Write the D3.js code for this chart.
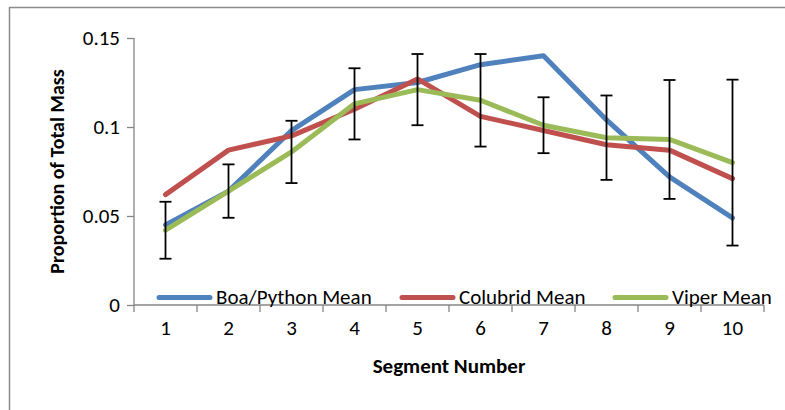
<!DOCTYPE html>
<html>
<head>
<meta charset="utf-8">
<script src="https://cdn.jsdelivr.net/npm/d3@7"></script>
<style>
  body { margin: 0; background: #fff; }
  svg text { font-family: Carlito, Calibri, Lato, sans-serif; }
</style>
</head>
<body>
<div id="chart"></div>
<script>
// data
var segments = [1, 2, 3, 4, 5, 6, 7, 8, 9, 10];
var boaMean = [0.045, 0.064, 0.098, 0.121, 0.125, 0.135, 0.140, 0.104, 0.072, 0.049];
var colubridMean = [0.062, 0.087, 0.095, 0.110, 0.127, 0.106, 0.098, 0.090, 0.087, 0.071];
var viperMean = [0.042, 0.064, 0.086, 0.113, 0.121, 0.115, 0.101, 0.094, 0.093, 0.080];
var viperErr = [0.016, 0.015, 0.0175, 0.020, 0.020, 0.026, 0.0157, 0.0237, 0.0334, 0.0466];
var yTicks = [0, 0.05, 0.1, 0.15];
var seriesNames = ["Boa/Python Mean", "Colubrid Mean", "Viper Mean"];
var seriesColors = ["#4F81BD", "#C0504D", "#9BBB59"];

var svgWidth = 785;
var svgHeight = 410;

var margin = { top: 38, right: 21, bottom: 105, left: 134 };
var chartWidth = svgWidth - margin.left - margin.right;
var chartHeight = svgHeight - margin.top - margin.bottom;

var svg = d3.select("#chart").append("svg")
    .attr("width", svgWidth)
    .attr("height", svgHeight);

// chart frame
svg.append("rect")
    .attr("x", 9.5)
    .attr("y", 7.5)
    .attr("width", 800)
    .attr("height", 500)
    .attr("fill", "none")
    .attr("stroke", "#8c8c8c")
    .attr("stroke-width", 1.5);

var chartGroup = svg.append("g")
    .attr("transform", `translate(${margin.left}, ${margin.top})`);

// scales
var xScale = d3.scaleBand()
    .domain(segments)
    .range([0, chartWidth]);

var yScale = d3.scaleLinear()
    .domain([0, 0.15])
    .range([chartHeight, 0]);

// axes
var xAxis = d3.axisBottom(xScale).tickSize(0).tickPadding(15);
var yAxis = d3.axisLeft(yScale).tickValues(yTicks).tickSize(7).tickPadding(7)
    .tickFormat(d => d === 0 ? "0" : String(+d.toFixed(2)));

var yAxisG = chartGroup.append("g").call(yAxis);
yAxisG.select(".domain").attr("stroke", "#868686").attr("stroke-width", 1.3)
    .attr("d", `M0,0V${chartHeight}`);
yAxisG.selectAll(".tick line").attr("stroke", "#868686").attr("stroke-width", 1.3);
yAxisG.selectAll(".tick text").attr("font-size", "21px").attr("fill", "#000")
    .style("font-family", "Carlito, Calibri, Lato, sans-serif");

var xAxisG = chartGroup.append("g")
    .attr("transform", `translate(0, ${chartHeight})`)
    .call(xAxis);
xAxisG.select(".domain").attr("stroke", "#868686").attr("stroke-width", 1.3)
    .attr("d", `M0,0H${chartWidth}`);
xAxisG.selectAll(".tick text").attr("font-size", "21px").attr("fill", "#000")
    .style("font-family", "Carlito, Calibri, Lato, sans-serif");

// tick marks between categories
var boundaries = segments.map(d => xScale(d)).concat([chartWidth]);
xAxisG.selectAll("line.bound")
    .data(boundaries)
    .enter()
    .append("line")
    .attr("class", "bound")
    .attr("x1", d => d).attr("x2", d => d)
    .attr("y1", 0).attr("y2", 7)
    .attr("stroke", "#868686")
    .attr("stroke-width", 1.3);

var cx = d => xScale(d) + xScale.bandwidth() / 2;

// lines
var line = d3.line()
    .x((d, i) => cx(segments[i]))
    .y(d => yScale(d));

[boaMean, colubridMean, viperMean].forEach(function (series, i) {
    chartGroup.append("path")
        .datum(series)
        .attr("fill", "none")
        .attr("stroke", seriesColors[i])
        .attr("stroke-width", 5)
        .attr("stroke-linejoin", "round")
        .attr("stroke-linecap", "round")
        .attr("d", line);
});

// error bars on viper
var errG = chartGroup.append("g");
segments.forEach(function (s, i) {
    var x = cx(s);
    var top = yScale(viperMean[i] + viperErr[i]);
    var bottom = yScale(viperMean[i] - viperErr[i]);
    errG.append("line")
        .attr("x1", x).attr("x2", x).attr("y1", top).attr("y2", bottom)
        .attr("stroke", "#000").attr("stroke-width", 1.8);
    [top, bottom].forEach(function (y) {
        errG.append("line")
            .attr("x1", x - 6).attr("x2", x + 6).attr("y1", y).attr("y2", y)
            .attr("stroke", "#000").attr("stroke-width", 1.8);
    });
});

// legend
var legendX = [157, 400, 613];
var legend = chartGroup.append("g");
seriesNames.forEach(function (name, i) {
    var x = legendX[i] - margin.left;
    var y = chartHeight - 7.5;
    legend.append("line")
        .attr("x1", x + 2).attr("x2", x + 53)
        .attr("y1", y).attr("y2", y)
        .attr("stroke", seriesColors[i])
        .attr("stroke-width", 5)
        .attr("stroke-linecap", "round");
    legend.append("text")
        .attr("x", x + 59)
        .attr("y", y + 6.5)
        .attr("font-size", "21px")
        .attr("fill", "#000")
        .text(name);
});

// axis titles
chartGroup.append("text")
    .attr("transform", "rotate(-90)")
    .attr("x", 0 - chartHeight / 2)
    .attr("y", 0 - margin.left + 64)
    .attr("text-anchor", "middle")
    .attr("font-size", "20px")
    .attr("font-weight", "bold")
    .text("Proportion of Total Mass");

chartGroup.append("text")
    .attr("x", chartWidth / 2)
    .attr("y", chartHeight + 68)
    .attr("text-anchor", "middle")
    .attr("font-size", "21px")
    .attr("font-weight", "bold")
    .text("Segment Number");
</script>
</body>
</html>
